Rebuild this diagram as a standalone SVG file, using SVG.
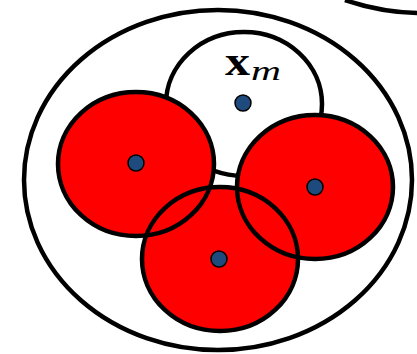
<svg xmlns="http://www.w3.org/2000/svg" width="417" height="354" viewBox="0 0 417 354">
<style>
.ln{fill:none;stroke:#000;stroke-width:4.5}
.red{fill:#ff0000;stroke:none}
.rs{fill:none;stroke:#000;stroke-width:4.5}
.dot{fill:#1f4a7d;stroke:#000;stroke-width:1.5}
</style>
<rect width="417" height="354" fill="#fff"/>
<g id="outer-arc"><path class="ln" d="M345,0 Q380,12 417,13"/></g>
<g id="outer"><ellipse class="ln" cx="218" cy="180" rx="194" ry="170" fill="#fff"/></g>
<g id="xm">
<ellipse cx="244" cy="104" rx="78" ry="72" fill="#fff" stroke="#000" stroke-width="4.5"/>
<circle class="dot" cx="243" cy="103" r="8"/>
<text x="225" y="75" font-family="Liberation Serif, serif" font-weight="bold" font-size="40" textLength="25" lengthAdjust="spacingAndGlyphs">x</text>
<text x="251" y="80" font-family="Liberation Serif, serif" font-style="italic" font-size="28" textLength="30" lengthAdjust="spacingAndGlyphs">m</text>
</g>
<g id="fills">
<ellipse class="red" cx="136" cy="164" rx="78" ry="72"/>
<ellipse class="red" cx="315" cy="187" rx="78" ry="72"/>
<ellipse class="red" cx="220" cy="259" rx="78" ry="72"/>
</g>
<g id="red-left"><ellipse class="rs" cx="136" cy="164" rx="78" ry="72"/><circle class="dot" cx="136" cy="163" r="8"/></g>
<g id="red-right"><ellipse class="rs" cx="315" cy="187" rx="78" ry="72"/><circle class="dot" cx="315" cy="187" r="8"/></g>
<g id="red-bottom"><ellipse class="rs" cx="220" cy="259" rx="78" ry="72"/><circle class="dot" cx="219" cy="259" r="8"/></g>
<g id="connectors"></g>
</svg>
